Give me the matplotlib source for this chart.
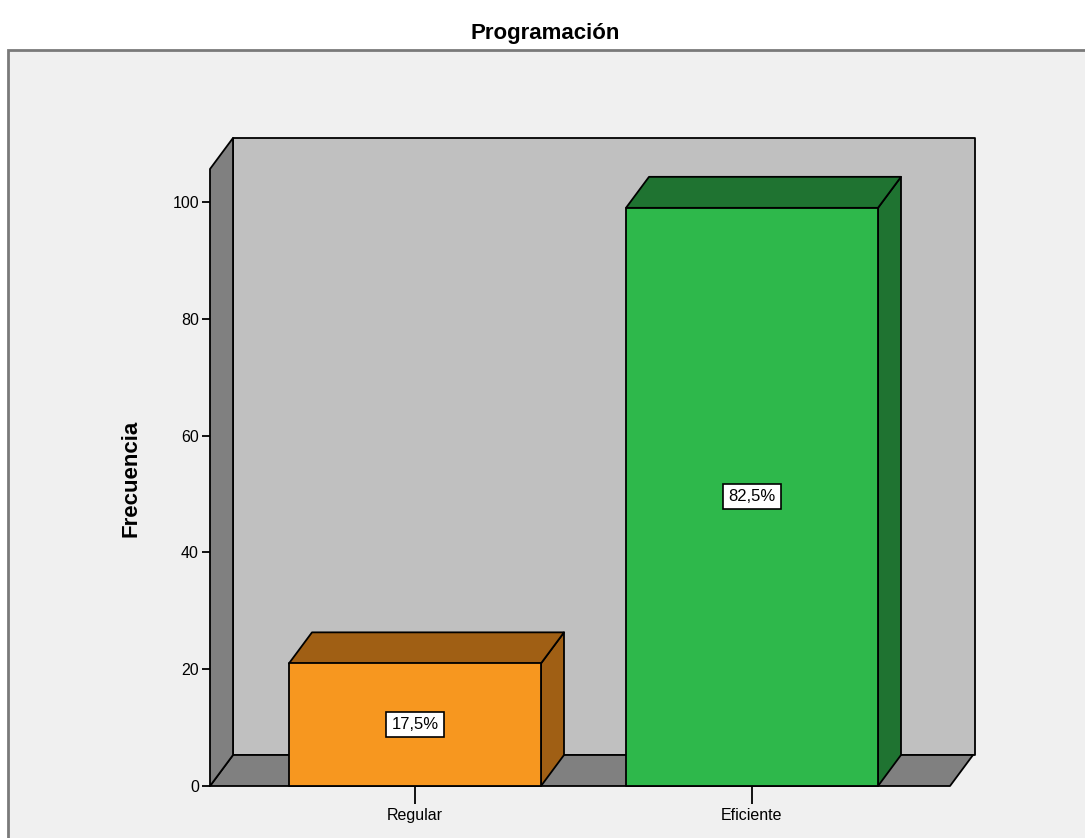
import matplotlib.pyplot as plt
from matplotlib.patches import Polygon, Rectangle

categories = ['Regular', 'Eficiente']
counts = [21, 99]
front_colors = ['#f7971f', '#2eb84b']
dark_colors = ['#a05f14', '#1f7331']

plt.rcParams['font.family'] = ['Liberation Sans Narrow', 'Liberation Sans', 'DejaVu Sans']

fig = plt.figure(figsize=(10.85, 8.38), dpi=100)
W, H = 1085.0, 838.0

# outer frame of the chart area (behind the axes)
fig.add_artist(Rectangle((8 / W, -0.01), 1.1, (838 - 50) / H + 0.01, transform=fig.transFigure,
                         facecolor='#f0f0f0', edgecolor='#7a7a7a', linewidth=2, zorder=-10))
fig.text(545 / W, 1 - 33 / H, 'Programación', ha='center', va='center',
         fontsize=16, fontweight='bold')

ax = fig.add_axes([210 / W, (838 - 786) / H, 765 / W, 648 / H])
px_x = 337.0
px_y = 5.84
x0 = -205 / px_x
x1 = x0 + 765 / px_x
ymax = 648 / px_y
ax.set_xlim(x0, x1)
ax.set_ylim(0, ymax)
ax.patch.set_alpha(0)
for s in ax.spines.values():
    s.set_visible(False)

dx = 23 / px_x
dy = 31 / px_y
floor_r = x0 + 740 / px_x
wall_top = ymax - dy

kw = dict(edgecolor='black', linewidth=1.3, clip_on=False, joinstyle='round')
# back wall
ax.add_patch(Polygon([(x0 + dx, dy), (x1, dy), (x1, ymax), (x0 + dx, ymax)], facecolor='#c0c0c0', **kw))
# floor
ax.add_patch(Polygon([(x0, 0), (floor_r, 0), (floor_r + dx, dy), (x0 + dx, dy)], facecolor='#808080', **kw))
# left wall
ax.add_patch(Polygon([(x0, 0), (x0 + dx, dy), (x0 + dx, ymax), (x0, wall_top)], facecolor='#808080', **kw))

bw = 252 / px_x
total = sum(counts)
for i, (c, v) in enumerate(zip(categories, counts)):
    l, r = i - bw / 2, i + bw / 2
    ax.add_patch(Polygon([(r, 0), (r + dx, dy), (r + dx, v + dy), (r, v)], facecolor=dark_colors[i], **kw))
    ax.add_patch(Polygon([(l, v), (r, v), (r + dx, v + dy), (l + dx, v + dy)], facecolor=dark_colors[i], **kw))
    ax.add_patch(Polygon([(l, 0), (r, 0), (r, v), (l, v)], facecolor=front_colors[i], **kw))
    pct = ('%.1f%%' % (100.0 * v / total)).replace('.', ',')
    ax.text(i, v / 2, pct, ha='center', va='center', fontsize=12,
            bbox=dict(boxstyle='square,pad=0.3', facecolor='white', edgecolor='black', linewidth=1.2))

ax.set_yticks([0, 20, 40, 60, 80, 100])
ax.set_xticks([0, 1])
ax.set_xticklabels(categories)
ax.tick_params(axis='y', length=6, width=1.3, labelsize=11.5, pad=2)
ax.tick_params(axis='x', length=13, width=1.3, labelsize=11.5, pad=3)
ax.set_ylabel('Frecuencia', fontsize=16, fontweight='bold')
ax.yaxis.set_label_coords(-68 / 765, (786 - 478) / 648)

fig.savefig('out.png', dpi=100)
